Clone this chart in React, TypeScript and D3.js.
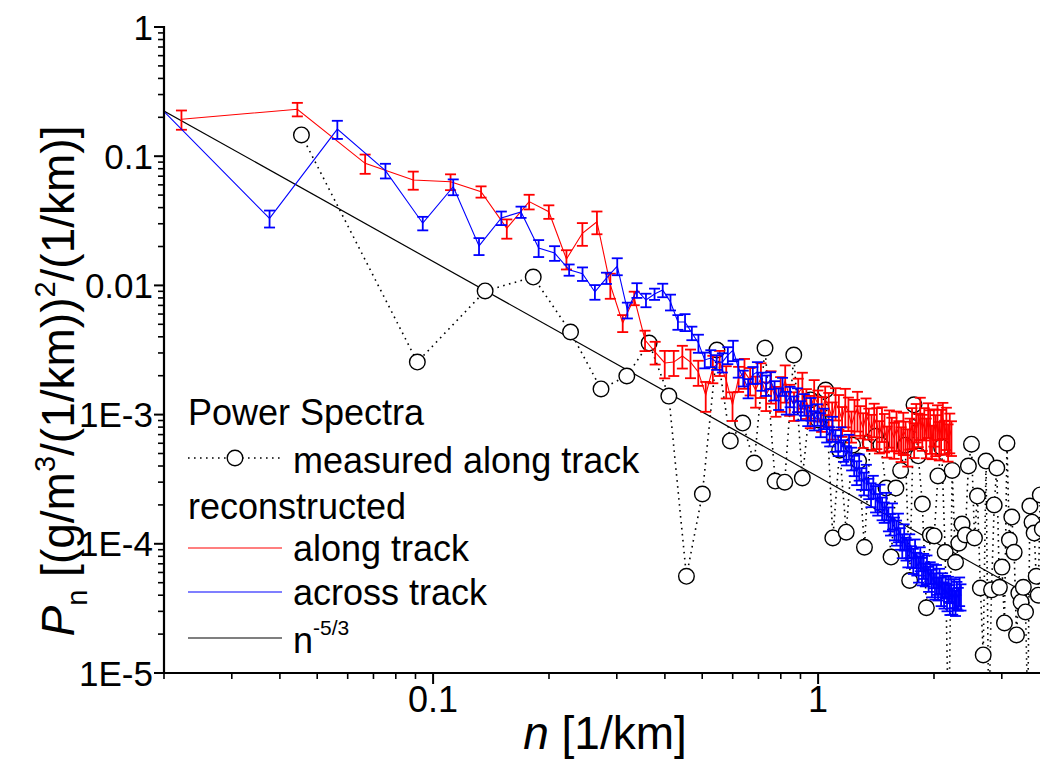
import React from 'react';
import * as d3 from 'd3';

const W = 1040;
const H = 760;

// frequency grid spacings [1/km]
const measuredDn = 0.0455;
const alongDn = 0.0222;
const acrossDn = 0.0188;

// measured along track (circles)
const measuredP = [
  0.146, 0.00255, 0.00906, 0.0116, 0.00436, 0.00158, 0.00199, 0.00358, 0.00139, 5.6e-5,
  2.43e-4, 3.16e-3, 6.25e-4, 8.6e-4, 4.22e-4, 3.27e-3, 3.06e-4, 3.0e-4, 2.89e-3, 3.23e-4,
  1.3e-3, 9.1e-4, 1.55e-3, 1.11e-4, 5.3e-4, 1.23e-4, 5.8e-4, 4.37e-4, 9.4e-5, 6.1e-4,
  6.8e-4, 5.8e-4, 2.7e-4, 7.9e-5, 2.7e-4, 3.7e-4, 5.8e-4, 5.2e-5, 1.19e-3, 4.8e-4,
  2.03e-4, 3.2e-5, 1.17e-4, 1.15e-4, 3.35e-4, 5.6e-4, 8.6e-5, 3e-6, 3.7e-4, 7.2e-5,
  1.01e-4, 1.42e-4, 1.17e-4, 4.0e-4, 5.9e-4, 1.11e-4, 2.34e-4, 4.55e-5, 1.38e-5, 4.37e-4,
  4e-6, 4.4e-5, 2.0e-4, 3.86e-4, 4.6e-5, 6.6e-5, 2.44e-5, 6.0e-4, 1.07e-4, 1.61e-4,
  8.6e-5, 1.97e-5, 4.16e-5, 3.55e-5, 4.6e-5, 2.97e-5, 5e-6, 1.96e-4, 1.47e-4, 1.21e-4,
  5.6e-5, 4.0e-5, 2.39e-4, 1.3e-4,
];

// reconstructed along track (red)
const alongP = [
  0.193, 0.231, 0.088, 0.0655, 0.0635, 0.0531, 0.0277, 0.0445, 0.0372, 0.016,
  0.0253, 0.0311, 0.0101, 0.00512, 0.00798, 0.00378, 0.00305, 0.00251, 0.00255, 0.00284,
  0.00255, 0.00214, 0.00142, 0.0023, 0.00255, 0.00185, 0.00119, 0.00192, 0.00214, 0.00185,
  1.55e-3, 1.92e-3, 1.42e-3, 1.69e-3, 1.30e-3, 1.50e-3, 1.82e-3, 1.34e-3, 1.19e-3, 1.47e-3,
  1.61e-3, 1.25e-3, 1.09e-3, 1.39e-3, 1.21e-3, 1.05e-3, 1.32e-3, 1.14e-3, 9.41e-4, 1.25e-3,
  1.09e-3, 9.08e-4, 1.19e-3, 1.05e-3, 8.31e-4, 9.93e-4, 1.12e-3, 9.08e-4, 7.88e-4, 1.01e-3,
  8.76e-4, 7.60e-4, 9.41e-4, 8.31e-4, 6.95e-4, 8.76e-4, 7.60e-4, 6.36e-4, 8.16e-4, 7.33e-4,
  6.59e-4, 7.88e-4, 6.95e-4, 6.13e-4, 7.60e-4, 6.83e-4, 5.82e-4, 7.33e-4, 8.31e-4, 6.59e-4,
  9.08e-4, 7.88e-4, 9.93e-4, 7.60e-4, 8.76e-4, 6.95e-4, 9.41e-4, 7.88e-4, 6.36e-4, 8.31e-4,
  7.33e-4, 9.08e-4, 6.59e-4, 7.88e-4, 9.41e-4, 6.95e-4, 8.31e-4, 6.36e-4, 7.60e-4, 6.83e-4,
];
const alongErr = [
  0.17, 0.12, 0.17, 0.16, 0.14, 0.10, 0.17, 0.13, 0.12, 0.17,
  0.20, 0.20, 0.22, 0.15, 0.12, 0.18, 0.20, 0.24, 0.22, 0.20,
  0.25, 0.22, 0.26, 0.24, 0.22, 0.28, 0.25, 0.22, 0.26, 0.24,
  0.27, 0.30, 0.25, 0.28, 0.26, 0.30, 0.32, 0.27, 0.25, 0.29,
  0.31, 0.26, 0.28, 0.33, 0.27, 0.30, 0.25, 0.29, 0.32, 0.28,
  0.30, 0.26, 0.33, 0.29, 0.27, 0.31, 0.34, 0.28, 0.30, 0.32,
  0.27, 0.31, 0.29, 0.35, 0.28, 0.30, 0.33, 0.27, 0.32, 0.29,
  0.31, 0.34, 0.28, 0.30, 0.36, 0.29, 0.32, 0.27, 0.35, 0.30,
  0.33, 0.29, 0.36, 0.31, 0.28, 0.34, 0.30, 0.37, 0.29, 0.32,
  0.35, 0.30, 0.33, 0.38, 0.31, 0.29, 0.36, 0.32, 0.34, 0.30,
];

// reconstructed across track (blue)
const acrossP = [
  0.267, 0.033, 0.162, 0.0773, 0.0303, 0.058, 0.0202, 0.0333, 0.037, 0.0195,
  0.0178, 0.0132, 0.0123, 0.0089, 0.0114, 0.0141, 0.00645, 0.0092, 0.0077, 0.00858,
  0.0092, 0.00744, 0.00521, 0.00521, 0.00428, 0.00358, 0.00265, 0.00274, 0.00255, 0.00255,
  0.00289, 0.00316, 0.0023, 0.00192, 0.00161, 0.00203, 0.00214, 0.00182, 0.0017, 0.00185,
  1.55e-3, 1.34e-3, 1.66e-3, 1.25e-3, 1.39e-3, 1.19e-3, 1.32e-3, 1.085e-3, 1.21e-3, 9.93e-4,
  1.12e-3, 9.08e-4, 1.01e-3, 8.46e-4, 9.41e-4, 7.60e-4, 6.83e-4, 7.88e-4, 6.36e-4, 5.82e-4,
  6.59e-4, 5.32e-4, 4.87e-4, 5.72e-4, 4.62e-4, 4.07e-4, 3.60e-4, 4.0e-4, 3.23e-4, 2.96e-4,
  3.35e-4, 2.70e-4, 2.43e-4, 2.80e-4, 2.27e-4, 2.04e-4, 2.35e-4, 1.90e-4, 1.77e-4, 2.00e-4,
  1.58e-4, 1.43e-4, 1.67e-4, 1.33e-4, 1.24e-4, 1.37e-4, 1.11e-4, 9.79e-5, 1.15e-4, 9.27e-5,
  8.64e-5, 9.79e-5, 8.04e-5, 7.49e-5, 8.64e-5, 7.10e-5, 6.50e-5, 7.76e-5, 6.27e-5, 6.85e-5,
  5.85e-5, 6.50e-5, 5.44e-5, 6.05e-5, 5.07e-5, 5.74e-5, 4.80e-5, 5.44e-5, 4.55e-5, 5.25e-5,
  4.39e-5, 4.89e-5, 4.09e-5, 4.71e-5, 3.95e-5, 4.55e-5, 3.80e-5, 4.39e-5, 3.67e-5, 4.24e-5,
  3.54e-5, 4.09e-5, 3.80e-5, 4.39e-5, 3.95e-5,
];
const acrossErr = [
  0.15, 0.15, 0.16, 0.13, 0.12, 0.14, 0.15, 0.12, 0.10, 0.15,
  0.13, 0.10, 0.12, 0.13, 0.10, 0.15, 0.14, 0.13, 0.12, 0.10,
  0.12, 0.14, 0.13, 0.15, 0.12, 0.16, 0.14, 0.15, 0.13, 0.17,
  0.15, 0.18, 0.16, 0.14, 0.17, 0.15, 0.19, 0.16, 0.18, 0.15,
  0.17, 0.19, 0.16, 0.20, 0.18, 0.16, 0.21, 0.17, 0.19, 0.18,
  0.20, 0.17, 0.19, 0.21, 0.18, 0.20, 0.17, 0.22, 0.19, 0.18,
  0.21, 0.19, 0.17, 0.22, 0.20, 0.18, 0.21, 0.23, 0.19, 0.20,
  0.22, 0.18, 0.21, 0.20, 0.23, 0.19, 0.22, 0.20, 0.18, 0.24,
  0.21, 0.19, 0.23, 0.20, 0.22, 0.25, 0.19, 0.21, 0.23, 0.20,
  0.24, 0.21, 0.19, 0.22, 0.25, 0.20, 0.23, 0.21, 0.24, 0.22,
  0.20, 0.25, 0.22, 0.19, 0.24, 0.21, 0.23, 0.26, 0.20, 0.22,
  0.25, 0.21, 0.23, 0.20, 0.24, 0.22, 0.26, 0.21, 0.23, 0.25,
  0.22, 0.24, 0.20, 0.25, 0.23,
];

// reference power law n^-5/3
const lawC = 3.3e-4;
const lawExp = -5 / 3;

const xTickValues = [0.1, 1];
const xTickLabels = ['0.1', '1'];
const yTickValues = [1, 0.1, 0.01, 1e-3, 1e-4, 1e-5];
const yTickLabels = ['1', '0.1', '0.01', '1E-3', '1E-4', '1E-5'];

const FONT = '"Liberation Sans", Arial, Helvetica, sans-serif';

const X0 = 164;
const DEC = 385;
const Y_TOP = 27;
const Y_BOT = 673;

export default function App() {
  const x = d3.scaleLog().domain([0.02, 5]).range([X0, X0 + DEC * Math.log10(250)]);
  const y = d3.scaleLog().domain([1e-5, 1]).range([Y_BOT, Y_TOP]);

  const measured = measuredP.map((p, i) => ({ n: (i + 1) * measuredDn, p }));
  const along = alongP.map((p, i) => ({ n: (i + 1) * alongDn, p, e: alongErr[i] }));
  const across = acrossP.map((p, i) => ({ n: (i + 1) * acrossDn, p, e: acrossErr[i] }));

  const line = d3
    .line<{ n: number; p: number }>()
    .x((d) => x(d.n))
    .y((d) => y(d.p));

  const lawPts = [0.02, 5].map((n) => ({ n, p: lawC * Math.pow(n, lawExp) }));

  const xMinor: number[] = [];
  for (const dec of [0.01, 0.1, 1]) {
    for (let m = 2; m <= 9; m++) {
      const v = dec * m;
      if (v >= 0.02 && v <= 5) xMinor.push(v);
    }
  }
  const yMinor: number[] = [];
  for (const dec of [1e-5, 1e-4, 1e-3, 1e-2, 1e-1]) {
    for (let m = 2; m <= 9; m++) yMinor.push(dec * m);
  }

  const cap = 5.5;
  const errBars = (data: { n: number; p: number; e: number }[], color: string) =>
    data.map((d, i) => {
      const cx = x(d.n);
      const y1 = y(d.p * (1 + d.e));
      const y2 = y(d.p * (1 - d.e));
      return (
        <g key={i} stroke={color} strokeWidth={1.8}>
          <line x1={cx} x2={cx} y1={y1} y2={y2} />
          <line x1={cx - cap} x2={cx + cap} y1={y1} y2={y1} />
          <line x1={cx - cap} x2={cx + cap} y1={y2} y2={y2} />
        </g>
      );
    });

  const legX1 = 188;
  const legX2 = 282;
  const legText = 293;
  const legFont = 36;

  return (
    <svg width={W} height={H} style={{ position: 'absolute', left: 0, top: 0, background: '#fff' }} fontFamily={FONT}>
      <rect x={0} y={0} width={W} height={H} fill="#fff" />
      <defs>
        <clipPath id="plotClip">
          <rect x={X0} y={0} width={W - X0} height={Y_BOT} />
        </clipPath>
      </defs>

      <g clipPath="url(#plotClip)">
        <path d={line(lawPts) || ''} fill="none" stroke="#000" strokeWidth={1.2} />
        <path d={line(measured) || ''} fill="none" stroke="#000" strokeWidth={1.6} strokeDasharray="1.6,4.4" />
        {measured.map((d, i) => (
          <circle key={i} cx={x(d.n)} cy={y(d.p)} r={7.8} fill="#fff" stroke="#000" strokeWidth={1.4} />
        ))}
        <path d={line(along) || ''} fill="none" stroke="#ff0000" strokeWidth={1.1} />
        {errBars(along, '#ff0000')}
        <path d={line(across) || ''} fill="none" stroke="#0000ff" strokeWidth={1.1} />
        {errBars(across, '#0000ff')}
      </g>

      {/* axes */}
      <line x1={X0} x2={X0} y1={Y_TOP - 1} y2={Y_BOT + 1} stroke="#000" strokeWidth={2.2} />
      <line x1={X0 - 1} x2={W} y1={Y_BOT} y2={Y_BOT} stroke="#000" strokeWidth={2.2} />
      {yTickValues.map((v, i) => (
        <g key={'yt' + i}>
          <line x1={X0 - 10} x2={X0} y1={y(v)} y2={y(v)} stroke="#000" strokeWidth={2} />
          <text x={X0 - 11} y={y(v)} dy="0.36em" textAnchor="end" fontSize={35}>
            {yTickLabels[i]}
          </text>
        </g>
      ))}
      {yMinor.map((v, i) => (
        <line key={'ym' + i} x1={X0 - 6} x2={X0} y1={y(v)} y2={y(v)} stroke="#000" strokeWidth={1.6} />
      ))}
      {xTickValues.map((v, i) => (
        <g key={'xt' + i}>
          <line x1={x(v)} x2={x(v)} y1={Y_BOT} y2={Y_BOT + 11} stroke="#000" strokeWidth={2} />
          <text x={x(v)} y={712} textAnchor="middle" fontSize={36}>
            {xTickLabels[i]}
          </text>
        </g>
      ))}
      {xMinor.map((v, i) => (
        <line key={'xm' + i} x1={x(v)} x2={x(v)} y1={Y_BOT} y2={Y_BOT + 6} stroke="#000" strokeWidth={1.6} />
      ))}

      {/* axis titles */}
      <text x={605} y={749} textAnchor="middle" fontSize={46}>
        <tspan fontStyle="italic">n</tspan>
        <tspan> [1/km]</tspan>
      </text>
      <text transform="translate(74,381) rotate(-90)" textAnchor="middle" fontSize={46}>
        <tspan fontStyle="italic">P</tspan>
        <tspan fontSize={29} dy={13}>n</tspan>
        <tspan dy={-13}> [(g/m</tspan>
        <tspan fontSize={29} dy={-19}>3</tspan>
        <tspan dy={19}>/(1/km))</tspan>
        <tspan fontSize={29} dy={-19}>2</tspan>
        <tspan dy={19}>/(1/km)]</tspan>
      </text>

      {/* legend */}
      <text x={legX1} y={412} dy="0.36em" fontSize={legFont}>Power Spectra</text>
      <line x1={legX1} x2={legX2} y1={458} y2={458} stroke="#000" strokeWidth={1.6} strokeDasharray="1.6,4.4" />
      <circle cx={(legX1 + legX2) / 2} cy={458} r={7.8} fill="#fff" stroke="#000" strokeWidth={1.4} />
      <text x={legText} y={460} dy="0.36em" fontSize={legFont}>measured along track</text>
      <text x={legX1} y={506} dy="0.36em" fontSize={legFont}>reconstructed</text>
      <line x1={legX1} x2={legX2} y1={548} y2={548} stroke="#ff0000" strokeWidth={1.1} />
      <text x={legText} y={548} dy="0.36em" fontSize={legFont}>along track</text>
      <line x1={legX1} x2={legX2} y1={592} y2={592} stroke="#0000ff" strokeWidth={1.1} />
      <text x={legText} y={592} dy="0.36em" fontSize={legFont}>across track</text>
      <line x1={legX1} x2={legX2} y1={638} y2={638} stroke="#000" strokeWidth={1.1} />
      <text x={legText} y={640} dy="0.36em" fontSize={legFont}>
        n<tspan fontSize={21} dy={-18}>-5/3</tspan>
      </text>
    </svg>
  );
}
